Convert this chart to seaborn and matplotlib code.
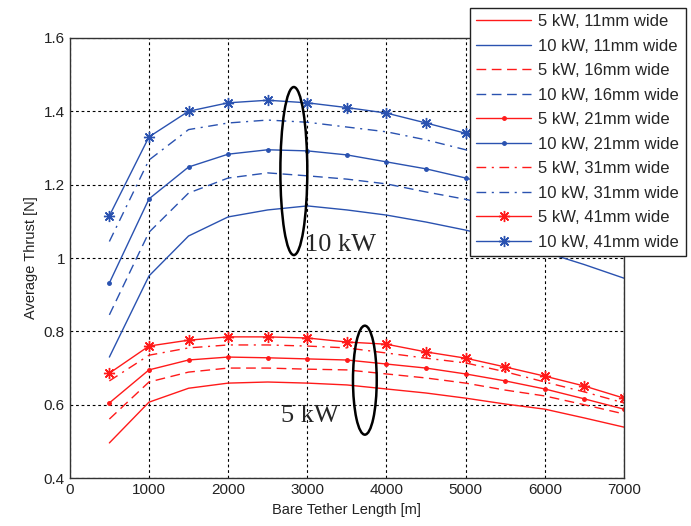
import numpy as np
import pandas as pd
import matplotlib
matplotlib.use("Agg")
import matplotlib.pyplot as plt
import seaborn as sns
from matplotlib.patches import Ellipse

# tether lengths [m]
length = [500, 1000, 1500, 2000, 2500, 3000, 3500, 4000, 4500, 5000, 5500, 6000, 6500, 7000]

# average thrust [N], 5 kW
red_11 = [0.496, 0.607, 0.645, 0.659, 0.662, 0.659, 0.654, 0.643, 0.632, 0.618, 0.602, 0.588, 0.564, 0.539]
red_16 = [0.561, 0.662, 0.689, 0.700, 0.700, 0.697, 0.695, 0.684, 0.673, 0.659, 0.640, 0.624, 0.600, 0.575]
red_21 = [0.605, 0.695, 0.722, 0.730, 0.728, 0.725, 0.722, 0.711, 0.700, 0.684, 0.665, 0.643, 0.616, 0.588]
red_31 = [0.665, 0.735, 0.755, 0.763, 0.763, 0.760, 0.755, 0.741, 0.727, 0.714, 0.690, 0.662, 0.635, 0.605]
red_41 = [0.686, 0.760, 0.776, 0.785, 0.785, 0.782, 0.771, 0.765, 0.744, 0.727, 0.703, 0.678, 0.651, 0.618]

# average thrust [N], 10 kW
blue_11 = [0.730, 0.951, 1.060, 1.112, 1.131, 1.142, 1.131, 1.117, 1.098, 1.076, 1.050, 1.016, 0.982, 0.945]
blue_16 = [0.845, 1.070, 1.177, 1.218, 1.232, 1.224, 1.215, 1.202, 1.180, 1.160, 1.135, 1.105, 1.075, 1.040]
blue_21 = [0.932, 1.161, 1.248, 1.283, 1.295, 1.292, 1.281, 1.262, 1.243, 1.218, 1.190, 1.160, 1.130, 1.100]
blue_31 = [1.045, 1.267, 1.350, 1.368, 1.376, 1.370, 1.357, 1.344, 1.322, 1.295, 1.270, 1.240, 1.210, 1.175]
blue_41 = [1.115, 1.330, 1.400, 1.423, 1.430, 1.423, 1.410, 1.395, 1.368, 1.340, 1.310, 1.280, 1.245, 1.210]

RED = "#ff1a1a"
BLUE = "#2a52b0"

series = [
    ("5 kW, 11mm wide", red_11, RED, "-", None),
    ("10 kW, 11mm wide", blue_11, BLUE, "-", None),
    ("5 kW, 16mm wide", red_16, RED, (0, (7, 4)), None),
    ("10 kW, 16mm wide", blue_16, BLUE, (0, (7, 4)), None),
    ("5 kW, 21mm wide", red_21, RED, "-", "."),
    ("10 kW, 21mm wide", blue_21, BLUE, "-", "."),
    ("5 kW, 31mm wide", red_31, RED, (0, (7, 4, 1.5, 4)), None),
    ("10 kW, 31mm wide", blue_31, BLUE, (0, (7, 4, 1.5, 4)), None),
    ("5 kW, 41mm wide", red_41, RED, "-", (8, 2, 0)),
    ("10 kW, 41mm wide", blue_41, BLUE, "-", (8, 2, 0)),
]

sns.set_style("white")
plt.rcParams["font.family"] = ["Liberation Sans", "DejaVu Sans"]

fig = plt.figure(figsize=(6.91, 5.26), dpi=100)
ax = fig.add_axes([0.101, 0.091, 0.802, 0.837])

for name, vals, col, ls, mk in series:
    ms = 5 if mk == "." else 8
    sns.lineplot(x=length, y=vals, ax=ax, color=col, linestyle=ls, marker=mk,
                 markersize=ms, markeredgecolor=col, markerfacecolor=col,
                 markeredgewidth=1.0, linewidth=1.0, label=name)

if ax.get_legend() is not None:
    ax.get_legend().remove()

ax.set_xlim(0, 7000)
ax.set_ylim(0.4, 1.6)
ax.set_xticks(range(0, 7001, 1000))
ax.set_yticks([0.4, 0.6, 0.8, 1.0, 1.2, 1.4, 1.6])
ax.set_yticklabels(["0.4", "0.6", "0.8", "1", "1.2", "1.4", "1.6"])
ax.grid(True, color="black", linestyle=(0, (2.5, 2.5)), linewidth=0.8)
ax.set_axisbelow(True)
for s in ax.spines.values():
    s.set_color("#333333")
    s.set_linewidth(1.0)
ax.tick_params(direction="in", length=4, labelsize=11, colors="#222222")
ax.set_xlabel("Bare Tether Length [m]", fontsize=10.5, color="#222222")
ax.set_ylabel("Average Thrust [N]", fontsize=10.5, color="#222222")

# group annotations
ax.add_patch(Ellipse((2830, 1.237), 340, 0.458, fill=False, edgecolor="black", linewidth=1.8, zorder=5))
ax.add_patch(Ellipse((3727, 0.667), 300, 0.297, fill=False, edgecolor="black", linewidth=1.8, zorder=5))
ax.text(3424, 1.035, "10 kW", family=["Liberation Serif"], fontsize=19, ha="center", va="center", zorder=6)
ax.text(3033, 0.569, "5 kW", family=["Liberation Serif"], fontsize=19, ha="center", va="center", zorder=6)

handles, labels = ax.get_legend_handles_labels()
leg = fig.legend(handles, labels, loc="upper right", bbox_to_anchor=(0.997, 0.992),
                 fontsize=12, frameon=True, fancybox=False, framealpha=1,
                 edgecolor="#222222", handlelength=3.3, labelspacing=0.57,
                 borderpad=0.4, handletextpad=0.4, borderaxespad=0.2)
leg.get_frame().set_linewidth(1.0)

fig.savefig("out.png", dpi=100)
